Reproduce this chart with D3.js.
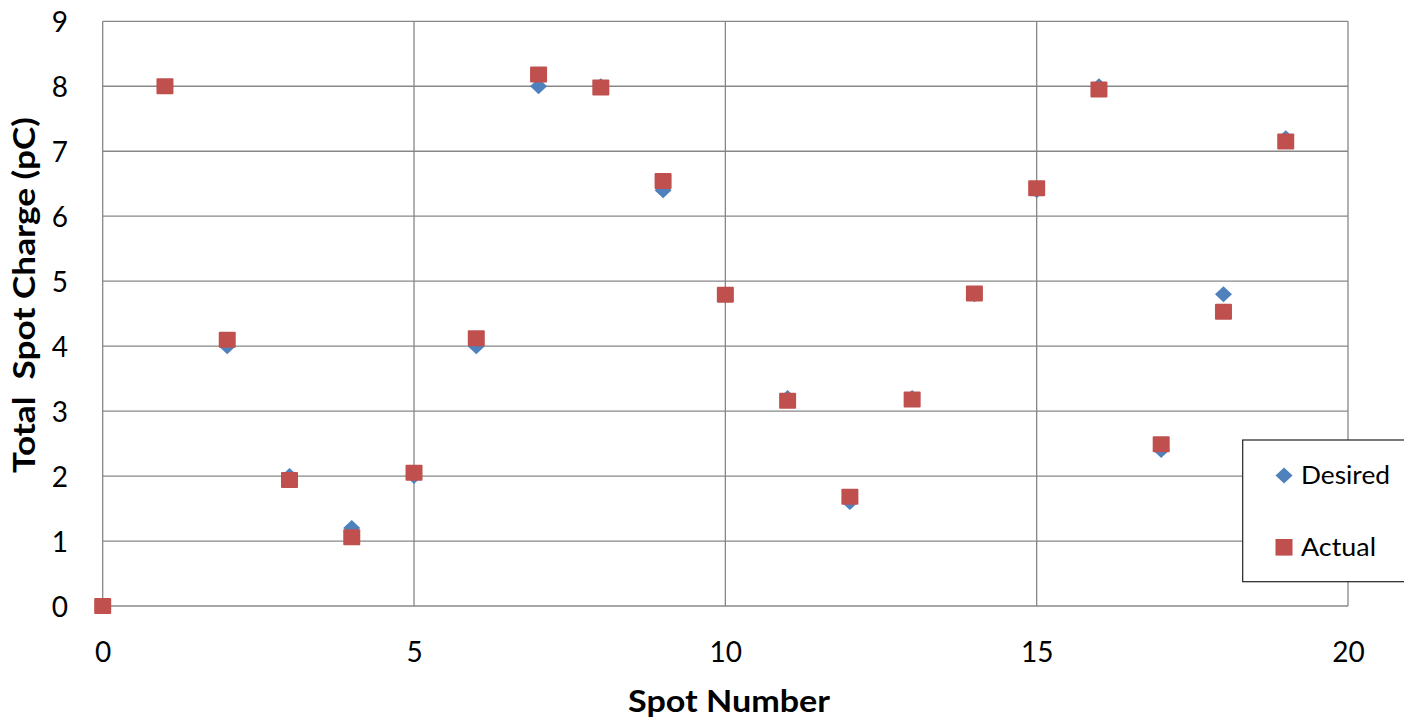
<!DOCTYPE html>
<html>
<head>
<meta charset="utf-8">
<script src="https://cdn.jsdelivr.net/npm/d3@7"></script>
<style>
  html, body { margin: 0; padding: 0; background: #fff; }
  svg { display: block; }
  text { font-family: Lato, "Open Sans", sans-serif; }
</style>
</head>
<body>
<svg id="chart" width="1404" height="724"></svg>
<script>
// Spot charge data
const spots   = [0, 1, 2, 3, 4, 5, 6, 7, 8, 9, 10, 11, 12, 13, 14, 15, 16, 17, 18, 19];
const desired = [0, 8, 4, 2, 1.2, 2, 4, 8, 8, 6.4, 4.8, 3.2, 1.6, 3.2, 4.8, 6.4, 8, 2.4, 4.8, 7.2];
const actual  = [0, 8.0, 4.1, 1.94, 1.06, 2.05, 4.12, 8.18, 7.98, 6.54, 4.79, 3.16, 1.68, 3.18, 4.81, 6.43, 7.95, 2.49, 4.53, 7.15];
const xTicks  = [0, 5, 10, 15, 20];
const yTicks  = [0, 1, 2, 3, 4, 5, 6, 7, 8, 9];
const seriesNames = ["Desired", "Actual"];

const W = 1404, H = 724;
const plot = { left: 102.7, top: 21.3, right: 1348, bottom: 606 };
const gridColor = "#878787";
const blue = "#4F81BD", red = "#C0504D";

const svg = d3.select("#chart");

const x = d3.scaleLinear().domain([0, 20]).range([plot.left, plot.right]);
const y = d3.scaleLinear().domain([0, 9]).range([plot.bottom, plot.top]);

// gridlines
const grid = svg.append("g");
grid.selectAll("line.h").data(yTicks).join("line")
  .attr("x1", plot.left).attr("x2", plot.right)
  .attr("y1", d => y(d)).attr("y2", d => y(d))
  .attr("stroke", gridColor).attr("stroke-width", 1.3);
grid.selectAll("line.v").data(xTicks).join("line")
  .attr("y1", plot.top).attr("y2", plot.bottom)
  .attr("x1", d => x(d)).attr("x2", d => x(d))
  .attr("stroke", gridColor).attr("stroke-width", 1.3);

// axes (labels only; the grid draws the frame)
const xAxis = d3.axisBottom(x).tickValues(xTicks).tickSize(0).tickPadding(0);
const gx = svg.append("g").attr("transform", `translate(0,${plot.bottom})`).call(xAxis);
gx.select(".domain").remove();
gx.selectAll("text").attr("font-size", 28).attr("fill", "#000")
  .attr("dy", null).attr("y", 56).attr("font-family", "Lato, sans-serif");

const yAxis = d3.axisLeft(y).tickValues(yTicks).tickSize(0).tickPadding(0);
const gy = svg.append("g").attr("transform", `translate(68,0)`).call(yAxis);
gy.select(".domain").remove();
gy.selectAll("text").attr("font-size", 28).attr("fill", "#000")
  .attr("dy", "0.36em").attr("x", 0).attr("font-family", "Lato, sans-serif");

// markers
const diamond = (cx, cy, w, h) => `M${cx},${cy - h / 2}L${cx + w / 2},${cy}L${cx},${cy + h / 2}L${cx - w / 2},${cy}Z`;

svg.append("g").selectAll("path").data(spots).join("path")
  .attr("d", (d, i) => diamond(x(d), y(desired[i]), 17, 16))
  .attr("fill", blue);

svg.append("g").selectAll("rect").data(spots).join("rect")
  .attr("x", d => x(d) - 8.5)
  .attr("y", (d, i) => y(actual[i]) - 8)
  .attr("width", 17).attr("height", 16)
  .attr("rx", 1)
  .attr("fill", red);

// axis titles
svg.append("text")
  .attr("x", 729).attr("y", 712)
  .attr("text-anchor", "middle")
  .attr("font-size", 30).attr("font-weight", "bold").attr("fill", "#000")
  .attr("textLength", 202).attr("lengthAdjust", "spacingAndGlyphs")
  .text("Spot Number");

svg.append("text")
  .attr("transform", "translate(35,295) rotate(-90)")
  .attr("text-anchor", "middle")
  .attr("font-size", 30).attr("font-weight", "bold").attr("fill", "#000")
  .attr("textLength", 356).attr("lengthAdjust", "spacingAndGlyphs")
  .style("white-space", "pre")
  .text("Total  Spot Charge (pC)");

// legend
const lg = svg.append("g");
lg.append("rect")
  .attr("x", 1242.7).attr("y", 440).attr("width", 200).attr("height", 141.7)
  .attr("fill", "#fff").attr("stroke", "#222").attr("stroke-width", 1.2);

const legendRows = [
  { name: seriesNames[0], cy: 475.5, color: blue, shape: "diamond", len: 89 },
  { name: seriesNames[1], cy: 547.3, color: red, shape: "square", len: 75 }
];
legendRows.forEach(r => {
  if (r.shape === "diamond") {
    lg.append("path").attr("d", diamond(1284, r.cy, 17, 16)).attr("fill", r.color);
  } else {
    lg.append("rect").attr("x", 1275.5).attr("y", r.cy - 8.3)
      .attr("width", 17).attr("height", 16.6).attr("fill", r.color);
  }
  lg.append("text")
    .attr("x", 1301).attr("y", r.cy + 8.5)
    .attr("font-size", 24.5).attr("fill", "#000")
    .attr("textLength", r.len).attr("lengthAdjust", "spacingAndGlyphs")
    .text(r.name);
});
</script>
</body>
</html>
